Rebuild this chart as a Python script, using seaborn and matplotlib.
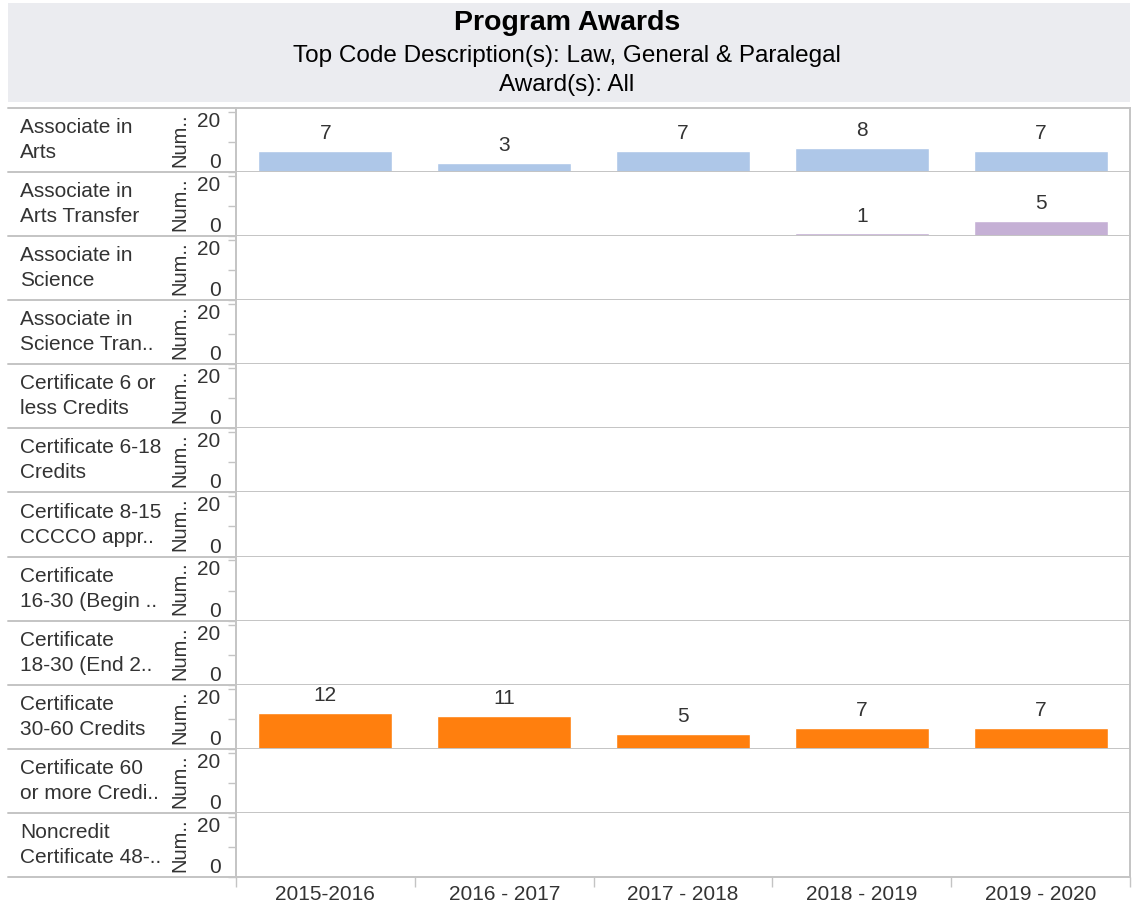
import numpy as np
import pandas as pd
import seaborn as sns
import matplotlib.pyplot as plt
from matplotlib.patches import Rectangle

# --- data ---
years = ["2015-2016", "2016 - 2017", "2017 - 2018", "2018 - 2019", "2019 - 2020"]

award_labels = [
    "Associate in\nArts",
    "Associate in\nArts Transfer",
    "Associate in\nScience",
    "Associate in\nScience Tran..",
    "Certificate 6 or\nless Credits",
    "Certificate 6-18\nCredits",
    "Certificate 8-15\nCCCCO appr..",
    "Certificate\n16-30 (Begin ..",
    "Certificate\n18-30 (End 2..",
    "Certificate\n30-60 Credits",
    "Certificate 60\nor more Credi..",
    "Noncredit\nCertificate 48-..",
]

assoc_arts = [7, 3, 7, 8, 7]
assoc_arts_transfer = [None, None, None, 1, 5]
cert_30_60 = [12, 11, 5, 7, 7]

series = {
    award_labels[0]: assoc_arts,
    award_labels[1]: assoc_arts_transfer,
    award_labels[9]: cert_30_60,
}
bar_colors = {
    award_labels[0]: "#aec7e8",
    award_labels[1]: "#c5b0d5",
    award_labels[9]: "#ff7f0e",
}

rows = []
for award, vals in series.items():
    for yr, v in zip(years, vals):
        if v is not None:
            rows.append({"award": award, "year": yr, "awards": v})
df = pd.DataFrame(rows)

# --- styling ---
sns.set_style("white")
plt.rcParams["font.family"] = ["Liberation Sans", "DejaVu Sans"]
text_col = "#333333"
line_col = "#c4c4c4"
fs = 15

fig, axes = plt.subplots(len(award_labels), 1, figsize=(11.34, 9.09), dpi=100, sharex=True)
fig.subplots_adjust(left=0.2081, right=0.9965, top=0.8812, bottom=0.0352, hspace=0)

# header band
fig.add_artist(Rectangle((0.007, 0.8878), 0.9895, 0.1089, transform=fig.transFigure,
                         facecolor="#ebecf0", edgecolor="none", zorder=0))
fig.text(0.5, 0.975, "Program Awards", ha="center", va="center", fontsize=20.5, weight="bold", color="black")
fig.text(0.5, 0.938, "Top Code Description(s): Law, General & Paralegal", ha="center", va="center",
         fontsize=17.5, color="black")
fig.text(0.5, 0.907, "Award(s): All", ha="center", va="center", fontsize=17.5, color="black")

label_x = (20 - 236) / 894
ext_x = (8 - 236) / 894

for i, (ax, award) in enumerate(zip(axes, award_labels)):
    sub = df[df["award"] == award]
    if len(sub):
        sns.barplot(data=sub, x="year", y="awards", order=years, hue="award", palette=bar_colors,
                    width=0.75, saturation=1, legend=False, ax=ax)
        for c in ax.containers:
            ax.bar_label(c, padding=5.5, fontsize=fs, color=text_col)

    ax.set_xlim(-0.5, len(years) - 0.5)
    ax.set_ylim(0, 21.3)
    ax.set_yticks([0, 10, 20], labels=["0", "", "20"])
    ax.tick_params(axis="y", length=6, width=1, color=line_col, labelsize=fs, labelcolor=text_col, pad=5, left=True)
    lbls = ax.get_yticklabels()
    lbls[0].set_va("bottom")
    lbls[2].set_va("top")

    ax.set_xlabel("")
    ax.set_ylabel("Num..", fontsize=14.5, color=text_col)
    ax.yaxis.set_label_coords(-0.052, 0.5)

    for side in ["top", "bottom"]:
        ax.spines[side].set_visible(False)
    for side in ["left", "right"]:
        ax.spines[side].set_visible(True)
        ax.spines[side].set_color(line_col)
        ax.spines[side].set_linewidth(1.4)

    # row separators across label column and plot area
    ax.plot([ext_x, 1], [0, 0], transform=ax.transAxes, clip_on=False, color=line_col, lw=1.4)
    if i == 0:
        ax.plot([ext_x, 1], [1, 1], transform=ax.transAxes, clip_on=False, color=line_col, lw=1.4)

    ax.text(label_x, 0.5, award, transform=ax.transAxes, ha="left", va="center",
            fontsize=fs, color=text_col, linespacing=1.4)

    if i < len(axes) - 1:
        ax.tick_params(axis="x", which="both", length=0)

last = axes[-1]
last.set_xticks(np.arange(-0.5, len(years)), labels=[""] * (len(years) + 1))
last.set_xticks(np.arange(len(years)), labels=years, minor=True)
last.tick_params(axis="x", which="major", length=7, width=1, color=line_col, bottom=True)
last.tick_params(axis="x", which="minor", length=0, labelsize=fs, labelcolor=text_col, pad=6, bottom=True)

fig.savefig("out.png", dpi=100)
plt.close()
